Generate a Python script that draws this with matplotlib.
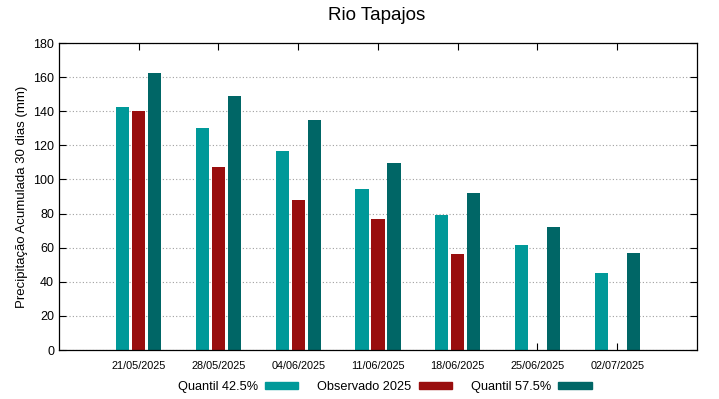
import numpy as np
import matplotlib.pyplot as plt
from matplotlib.patches import Patch

plt.rcParams['font.family'] = ['Liberation Sans', 'DejaVu Sans']

# dados
datas = ["21/05/2025", "28/05/2025", "04/06/2025", "11/06/2025",
         "18/06/2025", "25/06/2025", "02/07/2025"]
quantil_425 = [142.5, 130.3, 116.8, 94.5, 79.0, 61.6, 45.1]
observado = [139.9, 107.4, 88.0, 76.8, 56.3, np.nan, np.nan]
quantil_575 = [162.3, 149.0, 134.9, 109.6, 92.0, 72.2, 56.9]

cor_q1 = "#009999"
cor_obs = "#990e0e"
cor_q2 = "#006666"

fig = plt.figure(figsize=(7.19, 3.99), dpi=100)
ax = fig.add_axes([0.082, 0.1228, 0.8874, 0.7694])

x = np.arange(1, len(datas) + 1)
largura = 0.165
ax.bar(x - 0.2, quantil_425, largura, color=cor_q1, zorder=2)
ax.bar(x, observado, largura, color=cor_obs, zorder=2)
ax.bar(x + 0.2, quantil_575, largura, color=cor_q2, zorder=2)

ax.set_xlim(0, 8)
ax.set_ylim(0, 180)
ax.set_yticks(np.arange(0, 181, 20))
ax.set_xticks(x)
ax.set_xticklabels(datas, fontsize=7.8)
ax.tick_params(axis='y', labelsize=9)
ax.tick_params(direction='in', top=True, right=True, length=5, width=0.8)
ax.tick_params(axis='x', pad=8)
ax.grid(axis='y', linestyle=(0, (1, 2)), color='#a0a0a0', linewidth=0.8)
ax.set_axisbelow(True)
for s in ax.spines.values():
    s.set_linewidth(0.9)

ax.set_ylabel("Precipitação Acumulada 30 dias (mm)", fontsize=9.5)
fig.text(0.524, 0.96, "Rio Tapajos", ha='center', va='center', fontsize=13.5)

handles = [Patch(color=cor_q1), Patch(color=cor_obs), Patch(color=cor_q2)]
fig.legend(handles, ["Quantil 42.5%", "Observado 2025", "Quantil 57.5%"],
           loc='center', bbox_to_anchor=(0.535, 0.03), ncol=3, frameon=False,
           markerfirst=False, fontsize=9.2, handlelength=2.6, handleheight=0.45,
           columnspacing=1.5, handletextpad=0.55)

fig.savefig("out.png", dpi=100)
